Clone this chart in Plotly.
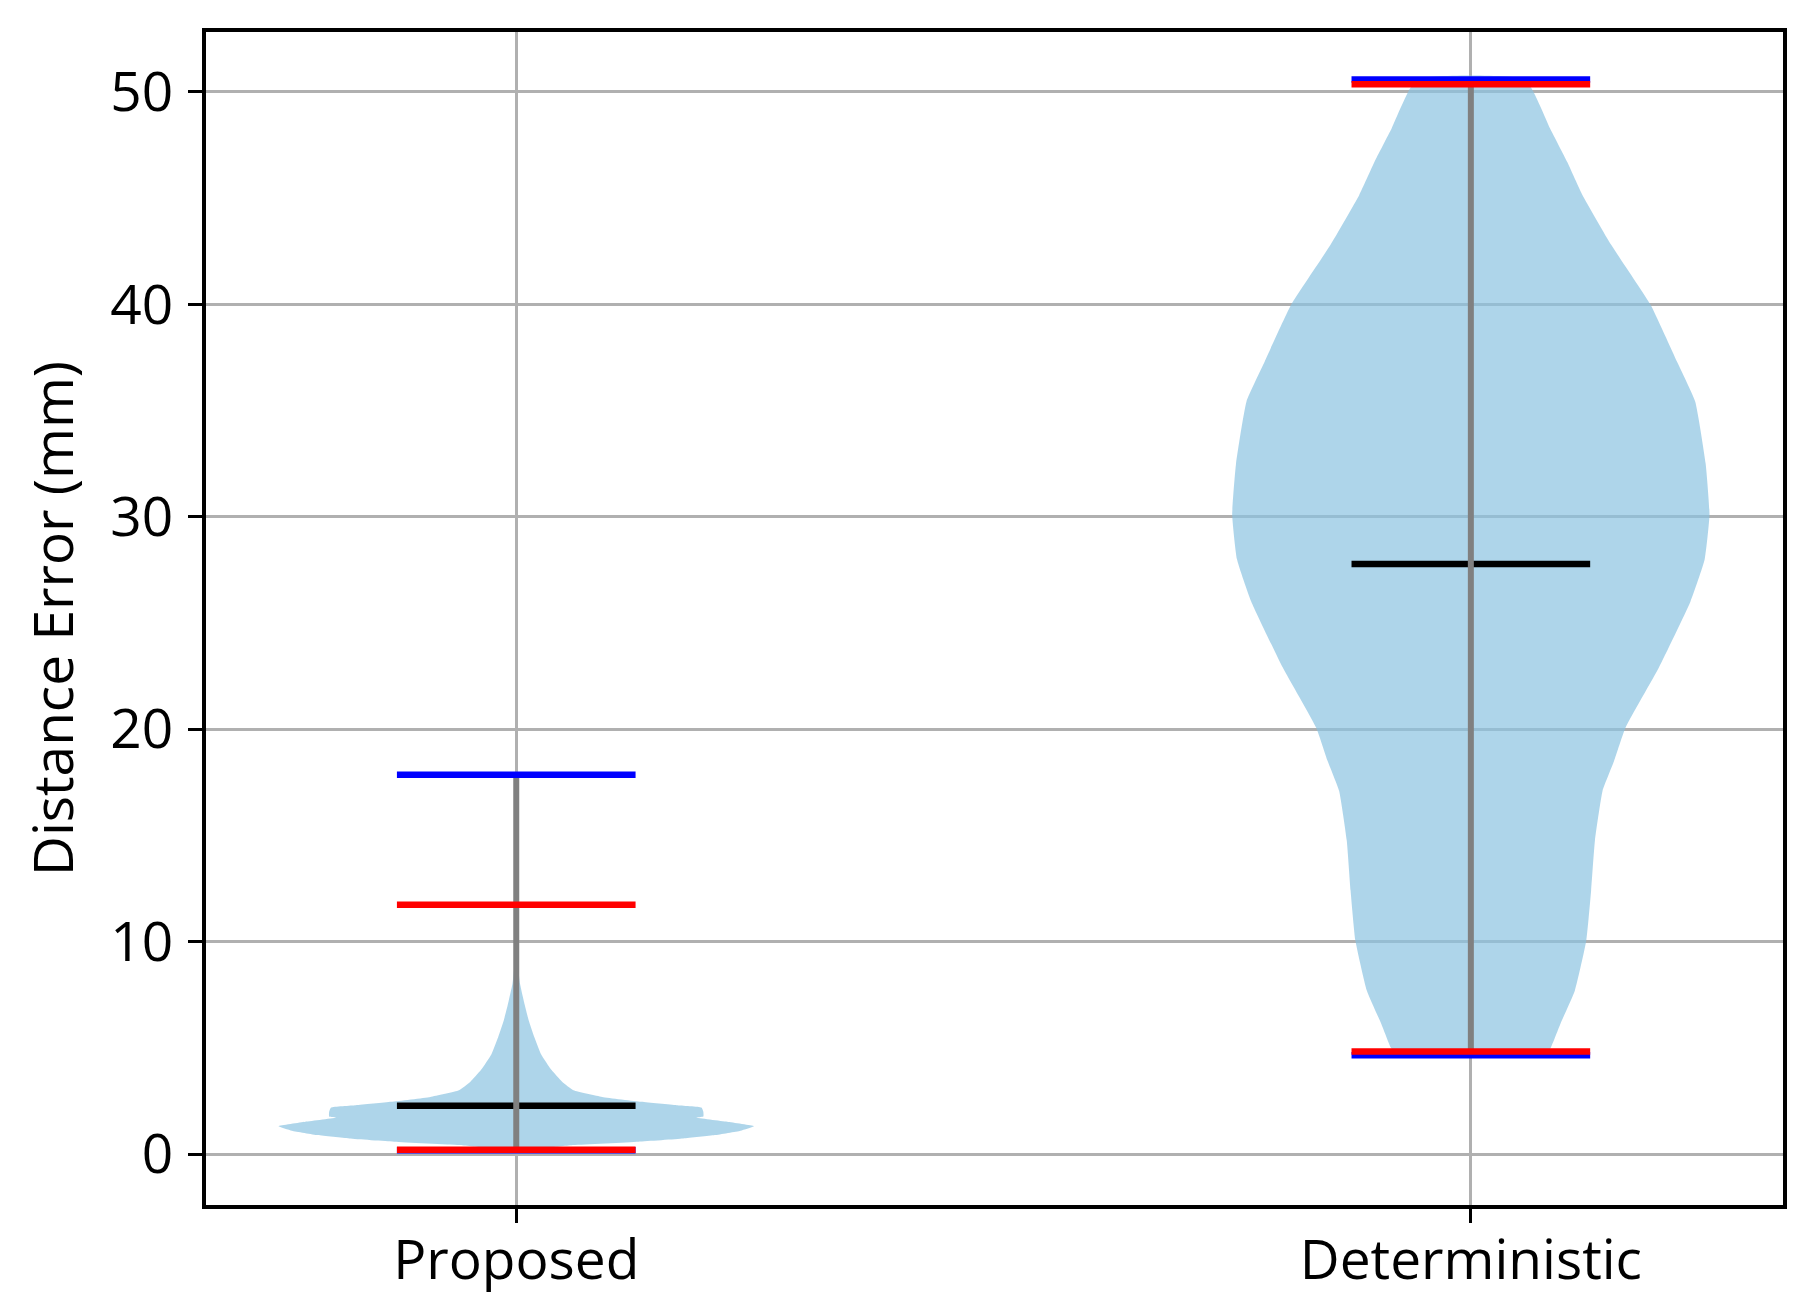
import plotly.graph_objects as go

CATEGORIES = ["Proposed", "Deterministic"]
POSITIONS = [1, 2]

# violin outline: value levels and half-widths (x units)
PROPOSED_LEVELS = [0.18, 0.30, 0.42, 0.58, 0.73, 0.89, 1.10, 1.31, 1.52, 1.72,
                   1.77, 1.99, 2.19, 2.30, 2.46, 2.69, 3.00, 3.40, 3.95, 4.70,
                   5.50, 6.30, 7.00, 8.00, 8.80, 10.00, 17.86]
PROPOSED_WIDTHS = [0.020, 0.035, 0.060, 0.128, 0.175, 0.208, 0.235, 0.249, 0.221, 0.188,
                   0.196, 0.196, 0.194, 0.168, 0.131, 0.090, 0.060, 0.048, 0.037, 0.026,
                   0.019, 0.013, 0.009, 0.004, 0.002, 0.001, 0.000]

DETERMINISTIC_LEVELS = [4.65, 5.03, 6.15, 7.70, 10.06, 12.40, 14.76, 17.10, 18.50, 20.07,
                        22.90, 26.00, 28.00, 30.10, 32.50, 35.43, 37.30, 40.00, 42.80,
                        45.14, 46.70, 48.28, 50.58]
DETERMINISTIC_WIDTHS = [0.078, 0.084, 0.094, 0.109, 0.121, 0.126, 0.130, 0.138, 0.150, 0.162,
                        0.197, 0.230, 0.245, 0.250, 0.246, 0.235, 0.216, 0.188, 0.147,
                        0.117, 0.101, 0.083, 0.057]

MINS = [0.18, 4.65]
MAXS = [17.86, 50.58]
MEDIANS = [2.27, 27.77]
Q_LOW = [0.20, 4.83]
Q_HIGH = [11.73, 50.36]

Y_TICKS = [0, 10, 20, 30, 40, 50]

FILL = "rgba(140,195,225,0.7)"
BAR_HALF = 0.125
FONT = "Open Sans"
FONT_SIZE = 55

fig = go.Figure()

profiles = [(PROPOSED_LEVELS, PROPOSED_WIDTHS), (DETERMINISTIC_LEVELS, DETERMINISTIC_WIDTHS)]
for pos, (levels, widths) in zip(POSITIONS, profiles):
    xs = [pos + w for w in widths] + [pos - w for w in reversed(widths)]
    ys = list(levels) + list(reversed(levels))
    fig.add_trace(go.Scatter(x=xs, y=ys, fill="toself", fillcolor=FILL, mode="lines",
                             line=dict(width=0, shape="spline", smoothing=0.4),
                             hoverinfo="skip"))


def add_bar(pos, value, color):
    fig.add_trace(go.Scatter(x=[pos - BAR_HALF, pos + BAR_HALF], y=[value, value],
                             mode="lines", line=dict(color=color, width=6.5)))


for pos, med in zip(POSITIONS, MEDIANS):
    add_bar(pos, med, "black")

for pos, lo, hi in zip(POSITIONS, MINS, MAXS):
    fig.add_trace(go.Scatter(x=[pos, pos], y=[lo, hi], mode="lines",
                             line=dict(color="gray", width=6)))

for pos, lo, hi in zip(POSITIONS, MINS, MAXS):
    add_bar(pos, lo, "blue")
    add_bar(pos, hi, "blue")

for pos, lo, hi in zip(POSITIONS, Q_LOW, Q_HIGH):
    add_bar(pos, lo, "red")
    add_bar(pos, hi, "red")

axis_common = dict(
    showline=True, mirror=True, linecolor="black", linewidth=3.5,
    ticks="outside", ticklen=14, tickwidth=3, tickcolor="black",
    showgrid=True, gridcolor="#b0b0b0", gridwidth=3, zeroline=False,
    automargin=False,
    tickfont=dict(family=FONT, size=FONT_SIZE, color="black"),
)

fig.update_xaxes(range=[0.675, 2.327], tickmode="array", tickvals=POSITIONS,
                 ticktext=CATEGORIES, ticklabelstandoff=-10, **axis_common)
fig.update_yaxes(range=[-2.40, 52.82], tickmode="array", tickvals=Y_TICKS,
                 ticklabelstandoff=4,
                 title=dict(text="Distance Error (mm)", standoff=20,
                            font=dict(family=FONT, size=FONT_SIZE, color="black")),
                 **axis_common)

# page body adds an 8px offset, margins account for it
fig.update_layout(
    width=1815, height=1313,
    margin=dict(l=198, r=40, t=24, b=116),
    plot_bgcolor="white", paper_bgcolor="white",
    showlegend=False,
)

fig.write_html("out.html")
